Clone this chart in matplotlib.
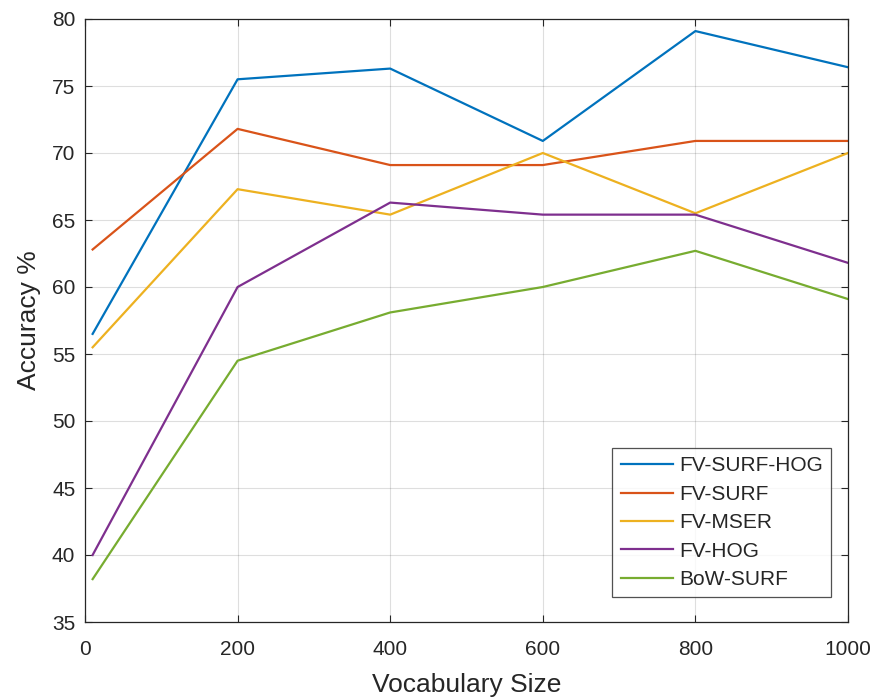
# -*- coding: utf-8 -*-
"""Accuracy versus vocabulary size for the FV / BoW encodings."""

import matplotlib
matplotlib.use('Agg')
import matplotlib.pyplot as plt

vocab_sizes = [10, 200, 400, 600, 800, 1000]
series_names = ['FV-SURF-HOG', 'FV-SURF', 'FV-MSER', 'FV-HOG', 'BoW-SURF']
fv_surf_hog = [56.5, 75.5, 76.3, 70.9, 79.1, 76.4]
fv_surf = [62.8, 71.8, 69.1, 69.1, 70.9, 70.9]
fv_mser = [55.5, 67.3, 65.4, 70.0, 65.5, 70.0]
fv_hog = [40.0, 60.0, 66.3, 65.4, 65.4, 61.8]
bow_surf = [38.2, 54.5, 58.1, 60.0, 62.7, 59.1]
x_ticks = [0, 200, 400, 600, 800, 1000]
y_ticks = [35, 40, 45, 50, 55, 60, 65, 70, 75, 80]

# MATLAB default line colours
colors = ['#0072BD', '#D95319', '#EDB120', '#7E2F8E', '#77AC30']
dark = '#262626'

plt.rcParams['font.family'] = ['Liberation Sans', 'DejaVu Sans']

fig = plt.figure(figsize=(8.76, 6.98), dpi=100)
ax = fig.add_axes([85 / 876, 1 - 622 / 698, (848 - 85) / 876, (622 - 19) / 698])

for name, values, color in zip(
        series_names, [fv_surf_hog, fv_surf, fv_mser, fv_hog, bow_surf], colors):
    ax.plot(vocab_sizes, values, color=color, linewidth=1.6, label=name)

ax.set_xlim(0, 1000)
ax.set_ylim(35, 80)
ax.set_xticks(x_ticks)
ax.set_yticks(y_ticks)
ax.minorticks_off()
ax.grid(True, color=dark, alpha=0.15, linewidth=0.8)
ax.set_axisbelow(True)
ax.tick_params(direction='in', top=True, right=True, length=5,
               width=0.8, colors=dark, labelsize=15)
ax.tick_params(axis='x', pad=13)
ax.tick_params(axis='y', pad=7)
for spine in ax.spines.values():
    spine.set_color(dark)
    spine.set_linewidth(0.9)

ax.set_xlabel('Vocabulary Size', fontsize=19, color=dark, labelpad=10)
ax.set_ylabel('Accuracy %', fontsize=19, color=dark, labelpad=8)

legend = ax.legend(loc='lower right', bbox_to_anchor=(0.978, 0.041),
                   fontsize=15, frameon=True, fancybox=False,
                   handlelength=2.5, handletextpad=0.3, labelspacing=0.45,
                   borderpad=0.4, borderaxespad=0.0)
legend.get_frame().set_edgecolor(dark)
legend.get_frame().set_linewidth(0.9)
for text in legend.get_texts():
    text.set_color(dark)

fig.savefig('out.png', dpi=100, facecolor='white')
